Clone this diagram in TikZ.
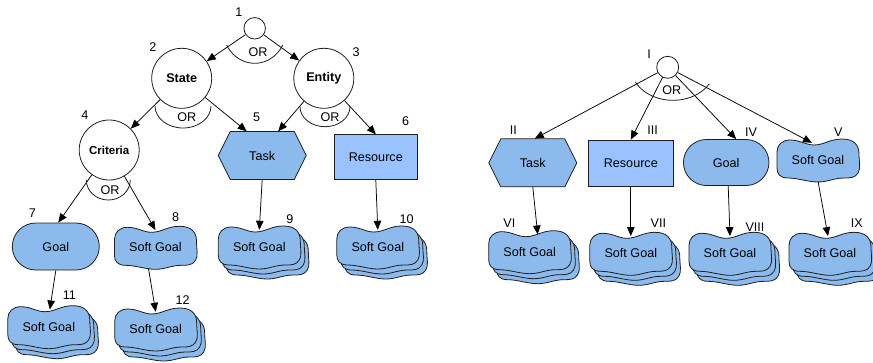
\documentclass[tikz,border=0pt]{standalone}
\usepackage{fontspec}
\setmainfont{Liberation Sans}
\usetikzlibrary{shapes.misc,arrows.meta,calc}
\definecolor{gfill}{RGB}{141,186,236}
\definecolor{rfill}{RGB}{153,194,255}
\definecolor{lncol}{RGB}{30,30,30}
\tikzset{
  every node/.style={font=\fontsize{12.6}{14}\selectfont, inner sep=0pt},
  ln/.style={draw=lncol, line width=0.8pt},
  arr/.style={draw=black, line width=0.75pt, -{Triangle[length=9pt,width=7.5pt]}},
  circ/.style={circle, ln, fill=white, minimum size=60pt},
  bold/.style={font=\fontsize{12.6}{14}\selectfont\bfseries},
  lab/.style={font=\fontsize{12.6}{14}\selectfont},
  txt/.style={minimum width=80pt, minimum height=34pt},
  hextxt/.style={minimum width=88pt, minimum height=48pt},
  resbox/.style={rectangle, ln, fill=rfill, minimum width=83pt, minimum height=45pt},
  goalbox/.style={rounded rectangle, ln, fill=gfill, minimum width=87pt, minimum height=47pt},
  sgshape/.pic={
    \path[ln, fill=gfill] (-41,-8)
      .. controls (-41,-15) and (-36,-20) .. (-28,-20)
      .. controls (-18,-20) and (-12,-15) .. (-4,-15)
      .. controls (6,-15) and (12,-21) .. (24,-21)
      .. controls (36,-21) and (41,-15) .. (41,-6)
      .. controls (41,2) and (43,8) .. (40,13)
      .. controls (37,18) and (32,18) .. (26,18)
      .. controls (16,18) and (10,22) .. (0,22)
      .. controls (-10,22) and (-20,18) .. (-30,18)
      .. controls (-38,18) and (-41,14) .. (-41,8) -- cycle;
  },
  sgstack/.pic={
    \pic at (8,10) {sgshape};
    \pic at (4,5) {sgshape};
    \pic at (0,0) {sgshape};
  },
  hexshape/.pic={
    \path[ln, fill=gfill] (-44,0) -- (-32,-24) -- (32,-24) -- (44,0) -- (32,24) -- (-32,24) -- cycle;
  },
}
\begin{document}
\begin{tikzpicture}[x=1pt,y=-1pt]
\useasboundingbox (0,0) rectangle (873,362);

% ---------------- left tree ----------------
\node[circ, minimum size=21.5pt] (n1) at (254.7,28.3) {};
\node[circ, bold] (state) at (181.7,78.3) {State};
\node[circ, bold] (entity) at (323.8,78.3) {Entity};
\node[circ, font=\fontsize{11.5}{13}\selectfont\bfseries] (crit) at (109.2,150) {Criteria};

\pic at (262.2,155.5) {hexshape};
\node[hextxt] (task5) at (262.2,155.5) {Task};
\node[resbox] (res6) at (375.8,157.2) {Resource};
\node[goalbox] (goal7) at (55.8,246.5) {Goal};

\pic at (155.5,247.3) {sgshape};
\node[txt] (sg8) at (155.5,247.3) {Soft Goal};
\pic at (259.3,247) {sgstack};
\node[txt] (sg9) at (259.3,247) {Soft Goal};
\pic at (377.8,247) {sgstack};
\node[txt] (sg10) at (377.8,247) {Soft Goal};
\pic at (48.8,326.7) {sgstack};
\node[txt] (sg11) at (48.8,326.7) {Soft Goal};
\pic at (155.7,329) {sgstack};
\node[txt] (sg12) at (155.7,329) {Soft Goal};

% OR arcs
\draw[ln] (n1.center) ++(208.5:32pt and 35pt) arc[start angle=208.5, end angle=331.5, x radius=32pt, y radius=35pt];
\node (or1) at (258,52) {OR};
\draw[ln] (155,106) arc[start angle=180, end angle=360, x radius=28pt, y radius=22pt];
\node (or2) at (186.7,117) {OR};
\draw[ln] (300,106.7) arc[start angle=180, end angle=360, x radius=25pt, y radius=20pt];
\node (or3) at (330,116.7) {OR};
\draw[ln] (86.3,180) arc[start angle=180, end angle=360, x radius=22pt, y radius=20pt];
\node (or4) at (110,190) {OR};

% edges
\draw[arr] (n1) -- (state);
\draw[arr] (n1) -- (entity);
\draw[arr] (state) -- (crit);
\draw[arr] (state) -- ($(task5.north)+(-15.5,0)$);
\draw[arr] (entity) -- ($(task5.north)+(16,0)$);
\draw[arr] (entity) -- (res6.north);
\draw[arr] (crit) -- ($(goal7.north)+(2.5,0)$);
\draw[arr] (crit) -- (sg8.north);
\draw[arr] (task5.south) -- (sg9.north);
\draw[arr] (res6.south) -- (sg10.north);
\draw[arr] (goal7.south) -- ($(sg11.north)+(1,0)$);
\draw[arr] ($(sg8.south)+(-7,4)$) -- (sg12.north);

% labels
\node[lab] (l1) at (239,12) {1};
\node[lab] (l2) at (153,47) {2};
\node[lab] (l3) at (356,52) {3};
\node[lab] (l4) at (85,115) {4};
\node[lab] (l5) at (256.7,117) {5};
\node[lab] (l6) at (405.7,120.7) {6};
\node[lab] (l7) at (32.3,213.3) {7};
\node[lab] (l8) at (175.7,216.7) {8};
\node[lab] (l9) at (290,219.3) {9};
\node[lab] (l10) at (406.7,219.3) {10};
\node[lab] (l11) at (69.3,295) {11};
\node[lab] (l12) at (182.7,300) {12};

% ---------------- right tree ----------------
\node[circ, minimum size=22pt] (nI) at (667.7,67.3) {};
\pic at (532.8,162.8) {hexshape};
\node[hextxt] (tII) at (532.8,162.8) {Task};
\node[resbox, minimum width=85pt, minimum height=46.5pt] (rIII) at (630.8,163.3) {Resource};
\node[goalbox, minimum width=85.5pt, minimum height=46pt] (gIV) at (726.2,162.5) {Goal};
\pic at (818,160) {sgshape};
\node[txt] (sgV) at (818,160) {Soft Goal};

\pic at (529.7,251.7) {sgstack};
\node[txt] (sgVI) at (529.7,251.7) {Soft Goal};
\pic at (630.8,253.3) {sgstack};
\node[txt] (sgVII) at (630.8,253.3) {Soft Goal};
\pic at (730,253.3) {sgstack};
\node[txt] (sgVIII) at (730,253.3) {Soft Goal};
\pic at (830,253.3) {sgstack};
\node[txt] (sgIX) at (830,253.3) {Soft Goal};

\coordinate (orc) at (673,67.3);
\draw[ln] (orc) ++(206:42pt and 33pt) arc[start angle=206, end angle=330, x radius=42pt, y radius=33pt];
\node (orI) at (671.7,90) {OR};

\draw[arr] (nI) -- ($(tII.north)+(2,0)$);
\draw[arr] (nI) -- (rIII.north);
\draw[arr] (nI) -- ($(gIV.north)+(10,0)$);
\draw[arr] (nI) -- ($(sgV.north)+(-6,0)$);
\draw[arr] (tII.south) -- ($(sgVI.north)+(8,0)$);
\draw[arr] (rIII.south) -- (sgVII.north);
\draw[arr] ($(gIV.south)+(2,0)$) -- (sgVIII.north);
\draw[arr] ($(sgV.south)+(0,4)$) -- ($(sgIX.north)+(-2,0)$);

\node[lab] (lI) at (649,54) {I};
\node[lab] (lII) at (513.3,130) {II};
\node[lab] (lIII) at (652.7,130) {III};
\node[lab] (lIV) at (751,131.7) {IV};
\node[lab] (lV) at (838.3,131.7) {V};
\node[lab] (lVI) at (509.3,222.7) {VI};
\node[lab] (lVII) at (658.3,222.7) {VII};
\node[lab] (lVIII) at (755,227.3) {VIII};
\node[lab] (lIX) at (856.7,223.3) {IX};
\end{tikzpicture}
\end{document}
